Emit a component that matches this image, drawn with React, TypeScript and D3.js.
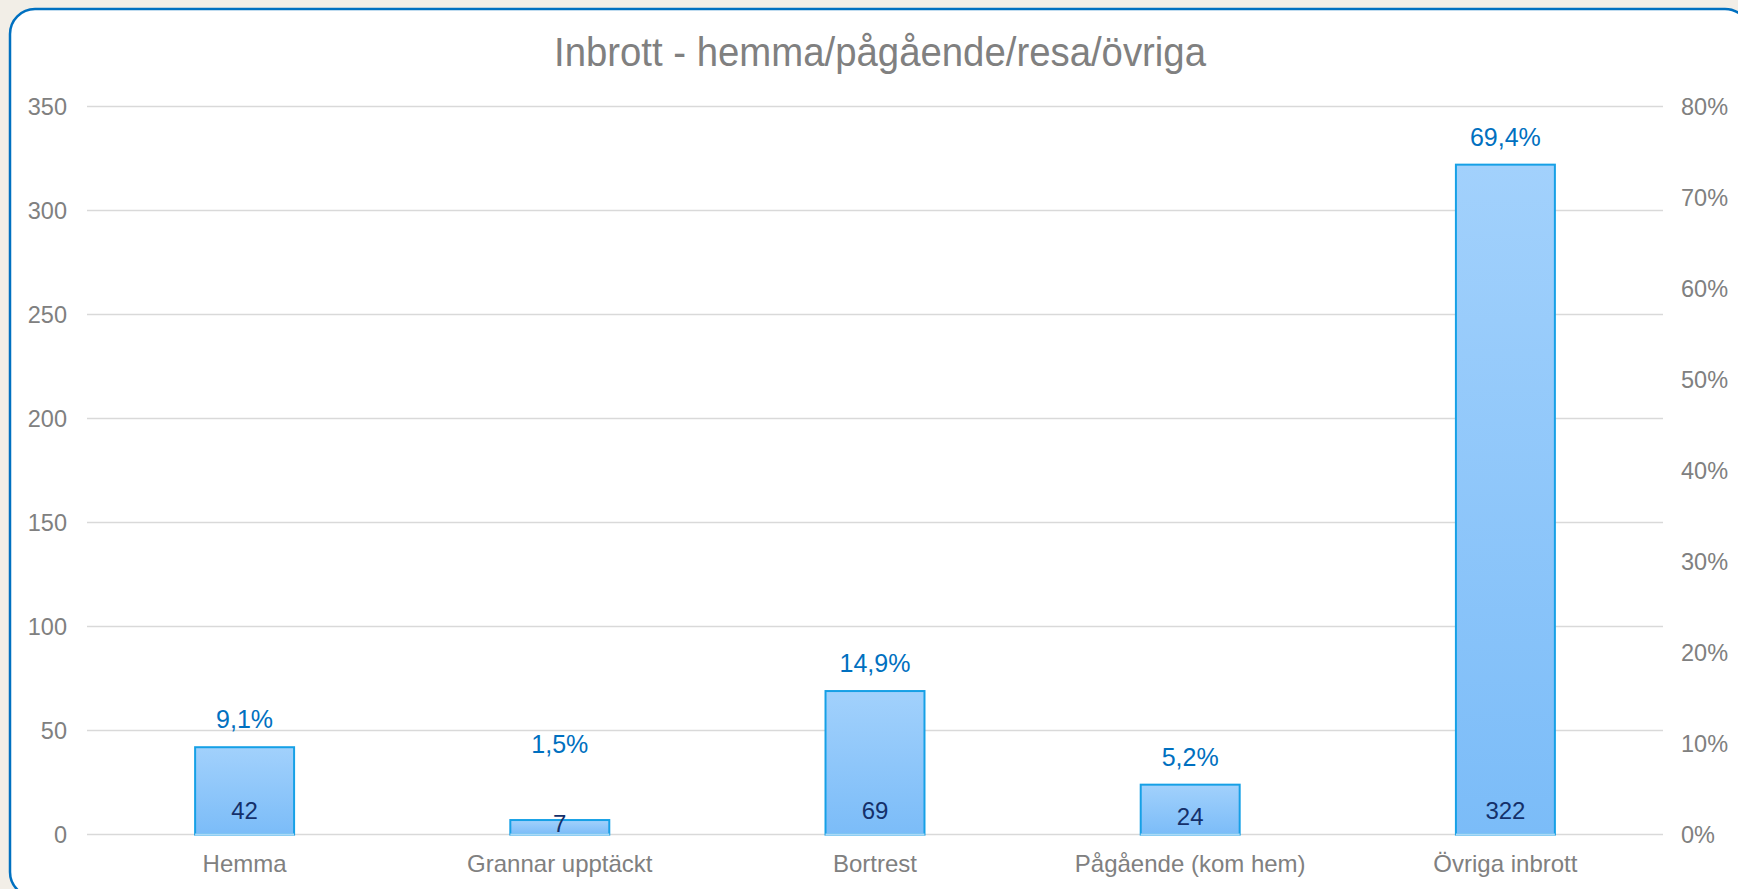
import React from 'react';
import * as d3 from 'd3';

// values
const categories = ['Hemma', 'Grannar upptäckt', 'Bortrest', 'Pågående (kom hem)', 'Övriga inbrott'];
const counts = [42, 7, 69, 24, 322];
const shares = ['9,1%', '1,5%', '14,9%', '5,2%', '69,4%'];
const leftTicks = [0, 50, 100, 150, 200, 250, 300, 350];
const rightTicks = [0, 10, 20, 30, 40, 50, 60, 70, 80];
const title = 'Inbrott - hemma/pågående/resa/övriga';

const W = 1738;
const H = 889;
const font = '"Liberation Sans", Arial, sans-serif';

const App = () => {
    const margin = { left: 87, right: 1663, top: 106.4, bottom: 834.6 };

    const x = d3.scaleBand<string>()
        .domain(categories)
        .range([margin.left, margin.right])
        .paddingInner(0.686)
        .paddingOuter(0.343);

    const y = d3.scaleLinear().domain([0, 350]).range([margin.bottom, margin.top]);
    const y2 = d3.scaleLinear().domain([0, 80]).range([margin.bottom, margin.top]);

    // the "1,5%" label was dragged up by hand in the original
    const shareNudge: Record<string, number> = { 'Grannar upptäckt': -48 };

    return (
        <div style={{ position: 'fixed', left: 0, top: 0, width: W, height: H, overflow: 'hidden', background: '#f2eee7' }}>
            <svg width={W} height={H} style={{ display: 'block', fontFamily: font }}>
                <defs>
                    <linearGradient id="barFill" x1="0" y1="0" x2="0" y2="1">
                        <stop offset="0%" stopColor="#a2d1fc" />
                        <stop offset="100%" stopColor="#7bbcf8" />
                    </linearGradient>
                </defs>

                <rect x={10} y={9} width={1740} height={888} rx={25} ry={25}
                    fill="#ffffff" stroke="#0070c0" strokeWidth={2.5} />

                {/* title is a bit condensed in the original */}
                <text x={880} y={66} textAnchor="middle" fontSize={40} fill="#808080"
                    textLength={652} lengthAdjust="spacingAndGlyphs">{title}</text>

                {/* gridlines */}
                {leftTicks.map(t => (
                    <line key={t} x1={margin.left} x2={margin.right} y1={y(t)} y2={y(t)}
                        stroke="#d9d9d9" strokeWidth={1.5} />
                ))}

                {/* left axis */}
                {leftTicks.map(t => (
                    <text key={'l' + t} x={67} y={y(t)} dy="0.35em" textAnchor="end"
                        fontSize={23.5} fill="#808080">{t}</text>
                ))}

                {/* right axis */}
                {rightTicks.map(t => (
                    <text key={'r' + t} x={1681} y={y2(t)} dy="0.35em" textAnchor="start"
                        fontSize={23.5} fill="#808080">{t}%</text>
                ))}

                {/* bars */}
                {categories.map((c, i) => {
                    const top = y(counts[i]);
                    const h = margin.bottom - top;
                    const bx = x(c)!;
                    const bw = x.bandwidth();
                    const cx = bx + bw / 2;
                    const inset = Math.min(16, h * 0.2);
                    return (
                        <g key={c}>
                            <rect x={bx} y={top} width={bw} height={h}
                                fill="url(#barFill)" stroke="#16a0e6" strokeWidth={2} />
                            <line x1={bx} x2={bx + bw} y1={margin.bottom} y2={margin.bottom}
                                stroke="#acdaf7" strokeWidth={2} />
                            <text x={cx} y={margin.bottom - inset} textAnchor="middle"
                                fontSize={24} fill="#14306a">{counts[i]}</text>
                            <text x={cx} y={top - 19 + (shareNudge[c] || 0)} textAnchor="middle"
                                fontSize={25} fill="#0070c0">{shares[i]}</text>
                            <text x={cx} y={872} textAnchor="middle"
                                fontSize={24} fill="#808080">{c}</text>
                        </g>
                    );
                })}
            </svg>
        </div>
    );
};

export default App;
